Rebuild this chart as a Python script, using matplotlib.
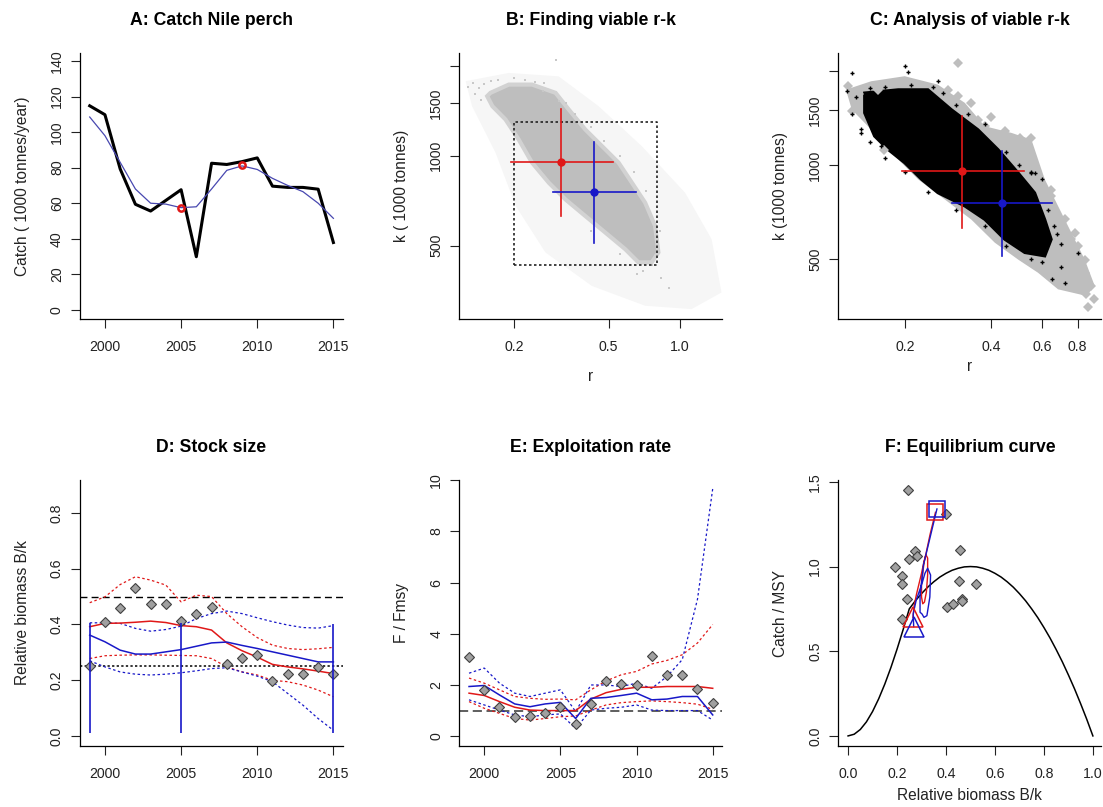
import numpy as np
import matplotlib
matplotlib.use('Agg')
import matplotlib.pyplot as plt
from matplotlib.ticker import NullLocator

plt.rcParams['font.family'] = ['Liberation Sans', 'DejaVu Sans']

RED = '#E01818'
BLUE = '#1818C8'

# ---------------- data ----------------
years = list(range(1999, 2016))

# A: catch
catch = [114.8, 109.8, 79.3, 59.4, 55.6, 61.6, 67.6, 29.9, 82.5, 81.8, 83.4, 85.5,
         69.6, 68.9, 68.9, 67.9, 37.9]
catch_smooth = [108.5, 98, 83, 68, 60, 59.5, 57.5, 58, 68, 78.5, 81, 79, 74, 70,
                66.5, 60, 51.5]
prior_years = [2005, 2009]
prior_catch = [57.5, 81.5]

# B / C: r-k space
red_r, red_r_lo, red_r_hi = 0.315, 0.195, 0.52
red_k, red_k_lo, red_k_hi = 953, 627, 1430
blue_r, blue_r_lo, blue_r_hi = 0.436, 0.292, 0.652
blue_k, blue_k_lo, blue_k_hi = 758, 510, 1112
prior_r = [0.2, 0.8]
prior_k = [430, 1300]

# B: cloud of tried r-k pairs (outline of faint halo and dense core)
halo_r = [0.125, 0.190, 0.308, 0.454, 0.690, 1.05, 1.359, 1.496, 1.119, 0.713,
          0.425, 0.271, 0.203, 0.167, 0.133]
halo_k = [1778, 1895, 1846, 1466, 1077, 752, 525, 348, 306, 314, 366, 474, 679,
          1024, 1466]
core_r = [0.159, 0.190, 0.238, 0.299, 0.340, 0.399, 0.469, 0.551, 0.627, 0.713,
          0.785, 0.811, 0.760, 0.668, 0.588, 0.484, 0.399, 0.329, 0.280, 0.238,
          0.209, 0.184, 0.162, 0.154]
core_k = [1625, 1732, 1732, 1625, 1428, 1224, 1077, 948, 812, 696, 582, 474, 439,
          439, 486, 553, 628, 714, 812, 948, 1134, 1323, 1466, 1584]
loose_r = [0.128, 0.134, 0.142, 0.137, 0.150, 0.171, 0.222, 0.268, 0.299, 0.660,
           0.700, 0.760, 0.830, 0.900, 0.265, 0.310, 0.145, 0.160, 0.200, 0.245,
           0.330, 0.360, 0.420, 0.480, 0.560, 0.640, 0.720, 0.820, 0.560, 0.420]
loose_k = [1700, 1760, 1690, 1610, 1740, 1800, 1790, 1760, 2100, 400, 410, 430, 390,
           360, 1650, 1520, 1540, 1780, 1820, 1770, 1500, 1380, 1250, 1120, 1000,
           880, 760, 560, 470, 560]

# C: viable r-k pairs
grey_r = [0.124, 0.152, 0.199, 0.260, 0.323, 0.379, 0.470, 0.552, 0.615, 0.722,
          0.848, 0.919, 0.859, 0.684, 0.582, 0.496, 0.411, 0.340, 0.275, 0.222,
          0.179, 0.152, 0.130]
grey_k = [1741, 1852, 1922, 1806, 1579, 1330, 1266, 1205, 898, 669, 498, 410, 381,
          400, 452, 498, 564, 669, 775, 898, 1093, 1297, 1503]
black_r = [0.144, 0.189, 0.240, 0.290, 0.359, 0.422, 0.496, 0.567, 0.615, 0.648,
           0.615, 0.523, 0.445, 0.379, 0.323, 0.260, 0.228, 0.199, 0.174, 0.156,
           0.144]
black_k = [1700, 1741, 1741, 1503, 1297, 1120, 944, 814, 669, 578, 511, 524, 578,
           669, 738, 814, 898, 1015, 1120, 1236, 1467]
grey_pts_r = [0.306, 0.445, 0.502, 0.552, 0.782, 0.894, 0.859, 0.169, 0.130, 0.126,
              0.684, 0.648, 0.761, 0.138, 0.160, 0.400, 0.282, 0.306, 0.340, 0.359,
              0.379, 0.400, 0.470, 0.523, 0.582, 0.615, 0.648, 0.666, 0.722, 0.761,
              0.803, 0.848, 0.761, 0.684, 0.803, 0.848, 0.910, 0.870]
grey_pts_k = [2120, 1282, 1221, 1221, 607, 410, 386, 1120, 1485, 1785, 669, 830,
              480, 1680, 1730, 1420, 1741, 1659, 1579, 1396, 1330, 1266, 1093, 1015,
              855, 814, 795, 703, 669, 578, 550, 498, 452, 430, 410, 452, 372, 350]
black_pts_r = [0.130, 0.199, 0.204, 0.722, 0.803, 0.552, 0.567, 0.140, 0.165, 0.125,
               0.260, 0.700, 0.650, 0.135, 0.150, 0.170, 0.210, 0.250, 0.270, 0.300,
               0.330, 0.380, 0.450, 0.500, 0.550, 0.600, 0.630, 0.660, 0.680, 0.700,
               0.600, 0.550, 0.450, 0.380, 0.300, 0.240, 0.200, 0.170, 0.150, 0.140,
               0.130]
black_pts_k = [1968, 2069, 1980, 420, 524, 944, 944, 1266, 1150, 1720, 1850, 470, 430,
               1650, 1760, 1780, 1800, 1780, 1700, 1560, 1450, 1350, 1100, 1000, 950,
               900, 720, 640, 600, 560, 490, 500, 550, 640, 720, 820, 950, 1050, 1180,
               1300, 1450]

# D: relative biomass
bk_obs = [0.252, 0.408, 0.46, 0.531, 0.472, 0.472, 0.412, 0.436, 0.461, 0.257, 0.281,
          0.289, 0.197, 0.224, 0.224, 0.248, 0.224]
bk_red = [0.392, 0.404, 0.405, 0.408, 0.412, 0.407, 0.396, 0.392, 0.38, 0.334, 0.306,
          0.283, 0.257, 0.248, 0.241, 0.233, 0.224]
bk_red_hi = [0.478, 0.499, 0.543, 0.571, 0.559, 0.541, 0.481, 0.505, 0.5, 0.439,
             0.392, 0.353, 0.326, 0.314, 0.31, 0.313, 0.318]
bk_red_lo = [0.278, 0.288, 0.29, 0.291, 0.291, 0.29, 0.289, 0.288, 0.278, 0.248, 0.23,
             0.219, 0.2, 0.195, 0.183, 0.165, 0.141]
bk_blue = [0.362, 0.338, 0.308, 0.294, 0.294, 0.302, 0.31, 0.322, 0.334, 0.337, 0.325,
           0.314, 0.302, 0.29, 0.278, 0.266, 0.266]
bk_blue_hi = [0.406, 0.406, 0.404, 0.386, 0.376, 0.382, 0.394, 0.421, 0.439, 0.448,
              0.439, 0.424, 0.41, 0.398, 0.389, 0.387, 0.396]
bk_blue_lo = [0.27, 0.248, 0.23, 0.222, 0.219, 0.222, 0.227, 0.234, 0.242, 0.245, 0.23,
              0.215, 0.195, 0.153, 0.111, 0.063, 0.021]
bk_prior_years = [1999, 2005, 2015]
bk_prior_lo = [0.01, 0.01, 0.01]
bk_prior_hi = [0.405, 0.405, 0.4]

# E: exploitation
f_obs = [3.08, 1.81, 1.15, 0.76, 0.8, 0.89, 1.13, 0.47, 1.26, 2.14, 2.03, 1.98, 3.12,
         2.39, 2.39, 1.85, 1.28]
f_red = [1.68, 1.59, 1.35, 1.13, 1.02, 1.0, 1.0, 1.0, 1.45, 1.7, 1.83, 1.91, 1.91,
         1.94, 1.94, 1.94, 1.87]
f_red_hi = [2.27, 2.07, 1.81, 1.55, 1.48, 1.44, 1.45, 1.42, 1.81, 2.16, 2.4, 2.53,
            2.82, 2.96, 3.18, 3.64, 4.36]
f_red_lo = [1.35, 1.09, 0.89, 0.69, 0.63, 0.69, 0.76, 0.79, 1.02, 1.22, 1.31, 1.35,
            1.38, 1.35, 1.31, 1.25, 1.05]
f_blue = [1.94, 1.98, 1.61, 1.26, 1.15, 1.26, 1.32, 0.69, 1.48, 1.51, 1.59, 1.68, 1.42,
          1.45, 1.55, 1.55, 0.83]
f_blue_hi = [2.46, 2.66, 2.07, 1.68, 1.55, 1.68, 1.81, 0.96, 2.0, 2.0, 1.94, 2.07,
             1.87, 2.33, 2.99, 5.35, 9.67]
f_blue_lo = [1.42, 1.22, 1.02, 0.83, 0.76, 0.83, 0.87, 0.3, 1.02, 1.09, 1.13, 1.22,
             1.02, 1.0, 1.0, 1.0, 0.63]

# F: equilibrium curve
eq_bk = [0, 0.025, 0.05, 0.075, 0.1, 0.125, 0.15, 0.175, 0.2, 0.225, 0.25, 0.275, 0.3,
         0.325, 0.35, 0.375, 0.4, 0.425, 0.45, 0.475, 0.5, 0.525, 0.55, 0.575, 0.6,
         0.625, 0.65, 0.675, 0.7, 0.725, 0.75, 0.775, 0.8, 0.825, 0.85, 0.875, 0.9,
         0.925, 0.95, 0.975, 1.0]
eq_cm = [0, 0.01, 0.038, 0.083, 0.144, 0.219, 0.306, 0.404, 0.512, 0.628, 0.75, 0.798,
         0.84, 0.878, 0.91, 0.938, 0.96, 0.978, 0.99, 0.998, 1.0, 0.998, 0.99, 0.978,
         0.96, 0.938, 0.91, 0.878, 0.84, 0.798, 0.75, 0.698, 0.64, 0.578, 0.51, 0.438,
         0.36, 0.278, 0.19, 0.098, 0.0]
pts_bk = [0.245, 0.192, 0.22, 0.22, 0.241, 0.22, 0.25, 0.273, 0.28, 0.399, 0.456, 0.452,
          0.524, 0.404, 0.429, 0.465, 0.467]
pts_cm = [1.45, 0.995, 0.943, 0.896, 0.808, 0.69, 1.044, 1.093, 1.063, 1.313, 1.097,
          0.914, 0.894, 0.763, 0.776, 0.808, 0.796]
traj_red_bk = [0.357, 0.335, 0.31, 0.30, 0.30, 0.305, 0.312, 0.32, 0.325, 0.325, 0.318,
               0.31, 0.30, 0.29, 0.28, 0.27, 0.265]
traj_red_cm = [1.32, 1.19, 1.02, 0.90, 0.82, 0.78, 0.79, 0.85, 0.95, 1.05, 1.07, 1.03,
               0.96, 0.90, 0.84, 0.77, 0.70]
traj_blue_bk = [0.363, 0.338, 0.308, 0.294, 0.294, 0.302, 0.31, 0.322, 0.334, 0.337,
                0.325, 0.314, 0.302, 0.29, 0.278, 0.266, 0.268]
traj_blue_cm = [1.34, 1.19, 1.01, 0.83, 0.73, 0.72, 0.70, 0.71, 0.82, 0.95, 0.99, 0.96,
                0.90, 0.85, 0.80, 0.72, 0.645]


# ---------------- helpers ----------------
def style(ax):
    for s in ['top', 'right']:
        ax.spines[s].set_visible(False)
    for s in ['left', 'bottom']:
        ax.spines[s].set_linewidth(0.9)
    ax.tick_params(direction='out', length=6.5, width=0.8, labelsize=10.2,
                   colors='#222222')
    ax.tick_params(axis='x', pad=8.5)
    ax.tick_params(axis='y', pad=5, labelrotation=90)
    for lab in ax.get_yticklabels():
        lab.set_va('center')


def title(ax, txt):
    ax.set_title(txt, fontsize=12.7, fontweight='bold', pad=20.5)


def ylab(ax, txt):
    ax.set_ylabel(txt, fontsize=11.2, color='#222222')
    ax.yaxis.set_label_coords(-0.19, 0.5)


def cross(ax, r, rlo, rhi, k, klo, khi, col):
    ax.plot([rlo, rhi], [k, k], color=col, lw=1.2)
    ax.plot([r, r], [klo, khi], color=col, lw=1.2)
    ax.plot([r], [k], 'o', color=col, ms=5)


fig = plt.figure(figsize=(11.03, 8.07), dpi=100)
W, H = 0.2386, 0.3293
xs = [0.0725, 0.4164, 0.7600]
ys = [0.6050, 0.0757]

# ---------------- A ----------------
ax = fig.add_axes([xs[0], ys[0], W, H])
ax.plot(years, catch, color='black', lw=2.2)
ax.plot(years, catch_smooth, color='#4848B0', lw=0.9)
ax.plot(prior_years, prior_catch, 'o', mfc='none', mec=RED, mew=1.8, ms=4.5)
ax.set_xlim(1998.36, 2015.64)
ax.set_ylim(-5, 144.5)
ax.set_xticks([2000, 2005, 2010, 2015])
ax.set_yticks(range(0, 141, 20))
style(ax)
title(ax, 'A: Catch Nile perch')
ylab(ax, 'Catch ( 1000 tonnes/year)')

# ---------------- B ----------------
ax = fig.add_axes([xs[1], ys[0], W, H])
ax.set_xscale('log')
ax.set_yscale('log')
ax.fill(halo_r, halo_k, color='#F6F6F6', lw=0)
ax.plot(loose_r, loose_k, 's', color='#C8C8C8', ms=1.8, mew=0)
ax.fill(core_r, core_k, facecolor='#BEBEBE', edgecolor='#D2D2D2', lw=3)
ax.plot([prior_r[0], prior_r[1], prior_r[1], prior_r[0], prior_r[0]],
        [prior_k[0], prior_k[0], prior_k[1], prior_k[1], prior_k[0]],
        color='#222222', lw=1.2, ls=(0, (1.5, 1.5)))
cross(ax, red_r, red_r_lo, red_r_hi, red_k, red_k_lo, red_k_hi, RED)
cross(ax, blue_r, blue_r_lo, blue_r_hi, blue_k, blue_k_lo, blue_k_hi, BLUE)
ax.set_xlim(0.1175, 1.51)
ax.set_ylim(284, 2210)
ax.set_xticks([0.2, 0.5, 1.0])
ax.set_xticklabels(['0.2', '0.5', '1.0'])
ax.set_yticks([500, 1000, 1500, 2000])
ax.set_yticklabels(['500', '1000', '1500', ''])
ax.xaxis.set_minor_locator(NullLocator())
ax.yaxis.set_minor_locator(NullLocator())
style(ax)
title(ax, 'B: Finding viable r-k')
ylab(ax, 'k ( 1000 tonnes)')
ax.set_xlabel('r', fontsize=11.2, color='#222222')
ax.xaxis.set_label_coords(0.5, -0.19)

# ---------------- C ----------------
ax = fig.add_axes([xs[2], ys[0], W, H])
ax.set_xscale('log')
ax.set_yscale('log')
ax.fill(grey_r, grey_k, color='#BEBEBE', lw=0)
ax.plot(grey_pts_r, grey_pts_k, 'D', color='#BEBEBE', ms=5, mew=0)
ax.fill(black_r, black_k, facecolor='black', edgecolor='black', lw=2)
ax.plot(black_pts_r, black_pts_k, '+', color='black', ms=3.5, mew=1)
cross(ax, red_r, red_r_lo, red_r_hi, red_k, red_k_lo, red_k_hi, RED)
cross(ax, blue_r, blue_r_lo, blue_r_hi, blue_k, blue_k_lo, blue_k_hi, BLUE)
ax.set_xlim(0.1166, 0.97)
ax.set_ylim(322, 2280)
ax.set_xticks([0.2, 0.4, 0.6, 0.8])
ax.set_xticklabels(['0.2', '0.4', '0.6', '0.8'])
ax.set_yticks([500, 1000, 1500, 2000])
ax.set_yticklabels(['500', '1000', '1500', ''])
ax.xaxis.set_minor_locator(NullLocator())
ax.yaxis.set_minor_locator(NullLocator())
style(ax)
title(ax, 'C: Analysis of viable r-k')
ylab(ax, 'k (1000 tonnes)')
ax.set_xlabel('r', fontsize=11.2, color='#222222')
ax.xaxis.set_label_coords(0.5, -0.15)

# ---------------- D ----------------
ax = fig.add_axes([xs[0], ys[1], W, H])
ax.axhline(0.5, color='black', lw=1, ls=(0, (5, 3)))
ax.axhline(0.25, color='black', lw=1.1, ls=(0, (1.5, 1.5)))
ax.plot(years, bk_red_hi, color=RED, lw=0.9, ls=(0, (2, 2)))
ax.plot(years, bk_red_lo, color=RED, lw=0.9, ls=(0, (2, 2)))
ax.plot(years, bk_blue_hi, color=BLUE, lw=0.9, ls=(0, (2, 2)))
ax.plot(years, bk_blue_lo, color=BLUE, lw=0.9, ls=(0, (2, 2)))
ax.plot(years, bk_red, color=RED, lw=1.1)
ax.plot(years, bk_blue, color=BLUE, lw=1.1)
ax.plot(years, bk_obs, 'D', mfc='#A0A0A0', mec='#404040', ms=5, mew=0.8)
ax.vlines(bk_prior_years, bk_prior_lo, bk_prior_hi, color=BLUE, lw=1.2)
ax.set_xlim(1998.36, 2015.64)
ax.set_ylim(-0.035, 0.917)
ax.set_xticks([2000, 2005, 2010, 2015])
ax.set_yticks([0.0, 0.2, 0.4, 0.6, 0.8])
ax.set_yticklabels(['0.0', '0.2', '0.4', '0.6', '0.8'])
style(ax)
title(ax, 'D: Stock size')
ylab(ax, 'Relative biomass B/k')

# ---------------- E ----------------
ax = fig.add_axes([xs[1], ys[1], W, H])
ax.axhline(1.0, color='#333333', lw=1.1, ls=(0, (6, 3)))
ax.plot(years, f_red_hi, color=RED, lw=0.9, ls=(0, (2, 2)))
ax.plot(years, f_red_lo, color=RED, lw=0.9, ls=(0, (2, 2)))
ax.plot(years, f_blue_hi, color=BLUE, lw=0.9, ls=(0, (2, 2)))
ax.plot(years, f_blue_lo, color=BLUE, lw=0.9, ls=(0, (2, 2)))
ax.plot(years, f_red, color=RED, lw=1.1)
ax.plot(years, f_blue, color=BLUE, lw=1.1)
ax.plot(years, f_obs, 'D', mfc='#A0A0A0', mec='#404040', ms=5, mew=0.8)
ax.set_xlim(1998.36, 2015.64)
ax.set_ylim(-0.38, 9.98)
ax.set_xticks([2000, 2005, 2010, 2015])
ax.set_yticks(range(0, 11, 2))
style(ax)
title(ax, 'E: Exploitation rate')
ylab(ax, 'F / Fmsy')

# ---------------- F ----------------
ax = fig.add_axes([xs[2], ys[1], W, H])
ax.plot(eq_bk, eq_cm, color='black', lw=1.1)
ax.plot(pts_bk, pts_cm, 'D', mfc='#A0A0A0', mec='#404040', ms=5, mew=0.8)
ax.plot(traj_red_bk, traj_red_cm, color=RED, lw=1.0)
ax.plot(traj_blue_bk, traj_blue_cm, color=BLUE, lw=1.0)
ax.plot(traj_red_bk[0], traj_red_cm[0], 's', mfc='none', mec=RED, ms=11, mew=1.1)
ax.plot(traj_blue_bk[0], traj_blue_cm[0], 's', mfc='none', mec=BLUE, ms=11, mew=1.1)
ax.plot(traj_red_bk[-1], traj_red_cm[-1], '^', mfc='none', mec=RED, ms=14, mew=1.1)
ax.plot(traj_blue_bk[-1], traj_blue_cm[-1], '^', mfc='none', mec=BLUE, ms=14, mew=1.1)
ax.set_xlim(-0.04, 1.035)
ax.set_ylim(-0.059, 1.51)
ax.set_xticks([0, 0.2, 0.4, 0.6, 0.8, 1.0])
ax.set_xticklabels(['0.0', '0.2', '0.4', '0.6', '0.8', '1.0'])
ax.set_yticks([0, 0.5, 1.0, 1.5])
ax.set_yticklabels(['0.0', '0.5', '1.0', '1.5'])
style(ax)
title(ax, 'F: Equilibrium curve')
ylab(ax, 'Catch / MSY')
ax.set_xlabel('Relative biomass B/k', fontsize=11.2, color='#222222')
ax.xaxis.set_label_coords(0.5, -0.16)

fig.savefig('out.png', dpi=100)
